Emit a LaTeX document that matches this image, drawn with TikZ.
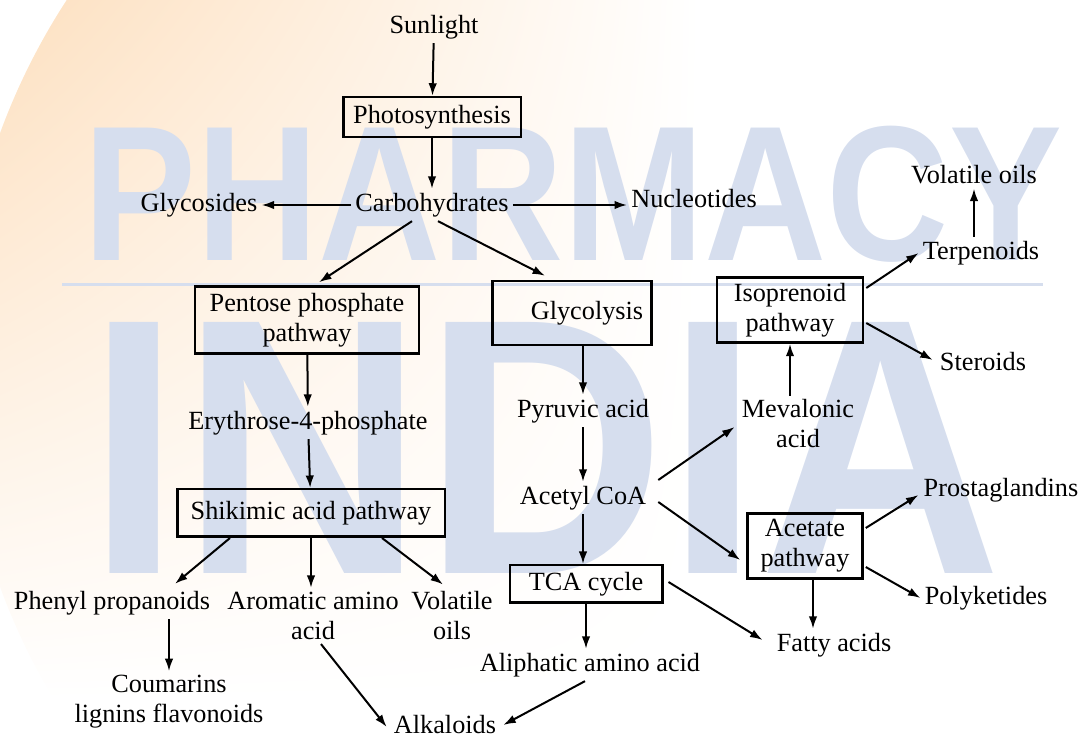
\documentclass[tikz,border=0pt]{standalone}
\usepackage{fontspec}
\setmainfont{Liberation Serif}
\setsansfont{Liberation Sans}
\usepackage{tikz}
\usetikzlibrary{arrows.meta,positioning,calc,shadings}
\definecolor{wmblue}{RGB}{214,222,238}
\definecolor{wmorange}{RGB}{253,224,192}
\definecolor{wmgreen}{RGB}{205,234,205}
\pgfdeclareradialshading{greenrim}{\pgfpoint{0bp}{0bp}}{color(0bp)=(white); color(30bp)=(white); color(47bp)=(wmgreen); color(50bp)=(wmgreen)}
\newcommand{\flowfont}{\fontsize{10.5}{12}\selectfont}

\begin{document}
\begin{tikzpicture}[x=0.4pt,y=-0.4pt,
   box/.style={draw,line width=1pt,inner sep=2pt,align=center,font=\flowfont},
   txt/.style={inner sep=1.5pt,align=center,font=\flowfont},
   arr/.style={-{Latex[length=5pt,width=3.4pt]},line width=0.8pt},
   wm/.style={text=wmblue,inner sep=0pt,transform shape}]
   \useasboundingbox (0,0) rectangle (1080,738);

   % background watermark
   \begin{scope}
      \clip (620,360) circle (660);
      \shade[upper left=wmorange,upper right=white,lower left=white,lower right=white] (0,0) rectangle (700,700);
   \end{scope}
   \begin{scope}
      \clip (560,738) -- (1080,360) -- (1080,738) -- cycle;
      \shade[shading=greenrim] (760,440) circle (325);
   \end{scope}
   \node[wm,font=\sffamily\bfseries\fontsize{77}{80}\selectfont,xscale=0.88] (wmtop) at (573,194) {PHARMACY};
   \node[wm,font=\sffamily\bfseries\fontsize{146}{150}\selectfont,xscale=0.92] (wmbot) at (545,448) {INDIA};
   \draw[wmblue,line width=1.2pt] (62,285) -- (1043,285);

   % top
   \node[txt] (sun)    at (434,27)  {Sunlight};
   \node[box,minimum width=71pt,minimum height=16pt] (photo) at (432,117) {Photosynthesis};
   \node[txt] (carb)   at (432,205) {Carbohydrates};
   \node[txt] (glycos) at (199,205) {Glycosides};
   \node[txt] (nucl)   at (694,199) {Nucleotides};

   % pentose branch
   \node[box,minimum width=89.6pt,minimum height=26.8pt] (pent) at (307,320) {Pentose phosphate\\pathway};
   \node[txt] (ery)    at (308,423) {Erythrose-4-phosphate};
   \node[box,minimum width=107pt,minimum height=19pt] (shik) at (311,513) {Shikimic acid pathway};
   \node[txt] (phen)   at (112,603) {Phenyl propanoids};
   \node[txt] (arom)   at (313,616) {Aromatic amino\\acid};
   \node[txt] (vol)    at (452,616) {Volatile\\oils};
   \node[txt] (coum)   at (169,702) {Coumarins\\lignins flavonoids};
   \node[txt] (alk)    at (445,725) {Alkaloids};

   % glycolysis branch
   \node[box,minimum width=63.6pt,minimum height=25.6pt] (glyc) at (572,313) {\hspace*{12pt}Glycolysis};
   \node[txt] (pyr)    at (583,411) {Pyruvic acid};
   \node[txt] (acoa)   at (583,498) {Acetyl CoA};
   \node[box,minimum width=61pt,minimum height=15pt] (tca) at (586,584) {TCA cycle};
   \node[txt] (aliph)  at (590,665) {Aliphatic amino acid};

   % right side
   \node[txt] (mev)    at (798,424) {Mevalonic\\acid};
   \node[box,minimum width=58.4pt,minimum height=26pt] (iso) at (790,310) {Isoprenoid\\pathway};
   \node[txt] (terp)   at (981,253) {Terpenoids};
   \node[txt] (voil)   at (974,175) {Volatile oils};
   \node[txt] (ster)   at (983,362) {Steroids};
   \node[box,minimum width=46pt,minimum height=26pt] (acet) at (805,546) {Acetate\\pathway};
   \node[txt] (prost)  at (1001,490) {Prostaglandins};
   \node[txt] (poly)   at (986,598) {Polyketides};
   \node[txt] (fatty)  at (834,645) {Fatty acids};
   \coordinate (acetf) at ($(acet.south)+(8,0)$);

   \path[arr]
   (sun) edge (photo)
   (photo) edge (carb)
   (carb) edge (glycos)
   (carb) edge (carb.east -| nucl.west)
   ($(carb.south)+(-20,0)$) edge ($(pent.north)+(12,-3)$)
   ($(carb.south)+(6,0)$) edge ($(glyc.north)+(-27,-4)$)
   (pent) edge (ery)
   (ery) edge (shik)
   ($(shik.south)+(-81,0)$) edge ($(phen.north)+(63,-3)$)
   (shik.south) edge (shik.south |- arom.north)
   ($(shik.south)+(71,0)$) edge ($(vol.north)+(-9,-3)$)
   (phen.south -| coum.north) edge (coum.north)
   ($(arom.south)+(8,0)$) edge ($(alk.west)+(-3,2)$)
   ($(aliph.south)+(-5,0)$) edge ($(alk.east)+(3,0)$)
   (glyc.south -| pyr.north) edge (pyr.north)
   (pyr) edge (acoa)
   (acoa.south) edge (acoa.south |- tca.north)
   (tca.south) edge (tca.south |- aliph.north)
   ($(acoa.east)+(8,-18)$) edge ($(mev.west)+(-3,3)$)
   ($(acoa.east)+(8,4)$) edge ($(acet.west)+(-6,14)$)
   ($(tca.east)+(5,-2)$) edge ($(fatty.west)+(-10,-5)$)
   (acetf) edge (acetf |- fatty.north)
   (iso.south |- mev.north) edge (iso.south)
   ($(iso.east)+(2,-22)$) edge (terp.west)
   ($(iso.east)+(2,13)$) edge ($(ster.west)+(-3,-2)$)
   (terp.north -| voil.south) edge (voil.south)
   ($(acet.east)+(2,-18)$) edge ($(prost.west)+(-1,5)$)
   ($(acet.east)+(2,21)$) edge (poly.west);
\end{tikzpicture}
\end{document}
